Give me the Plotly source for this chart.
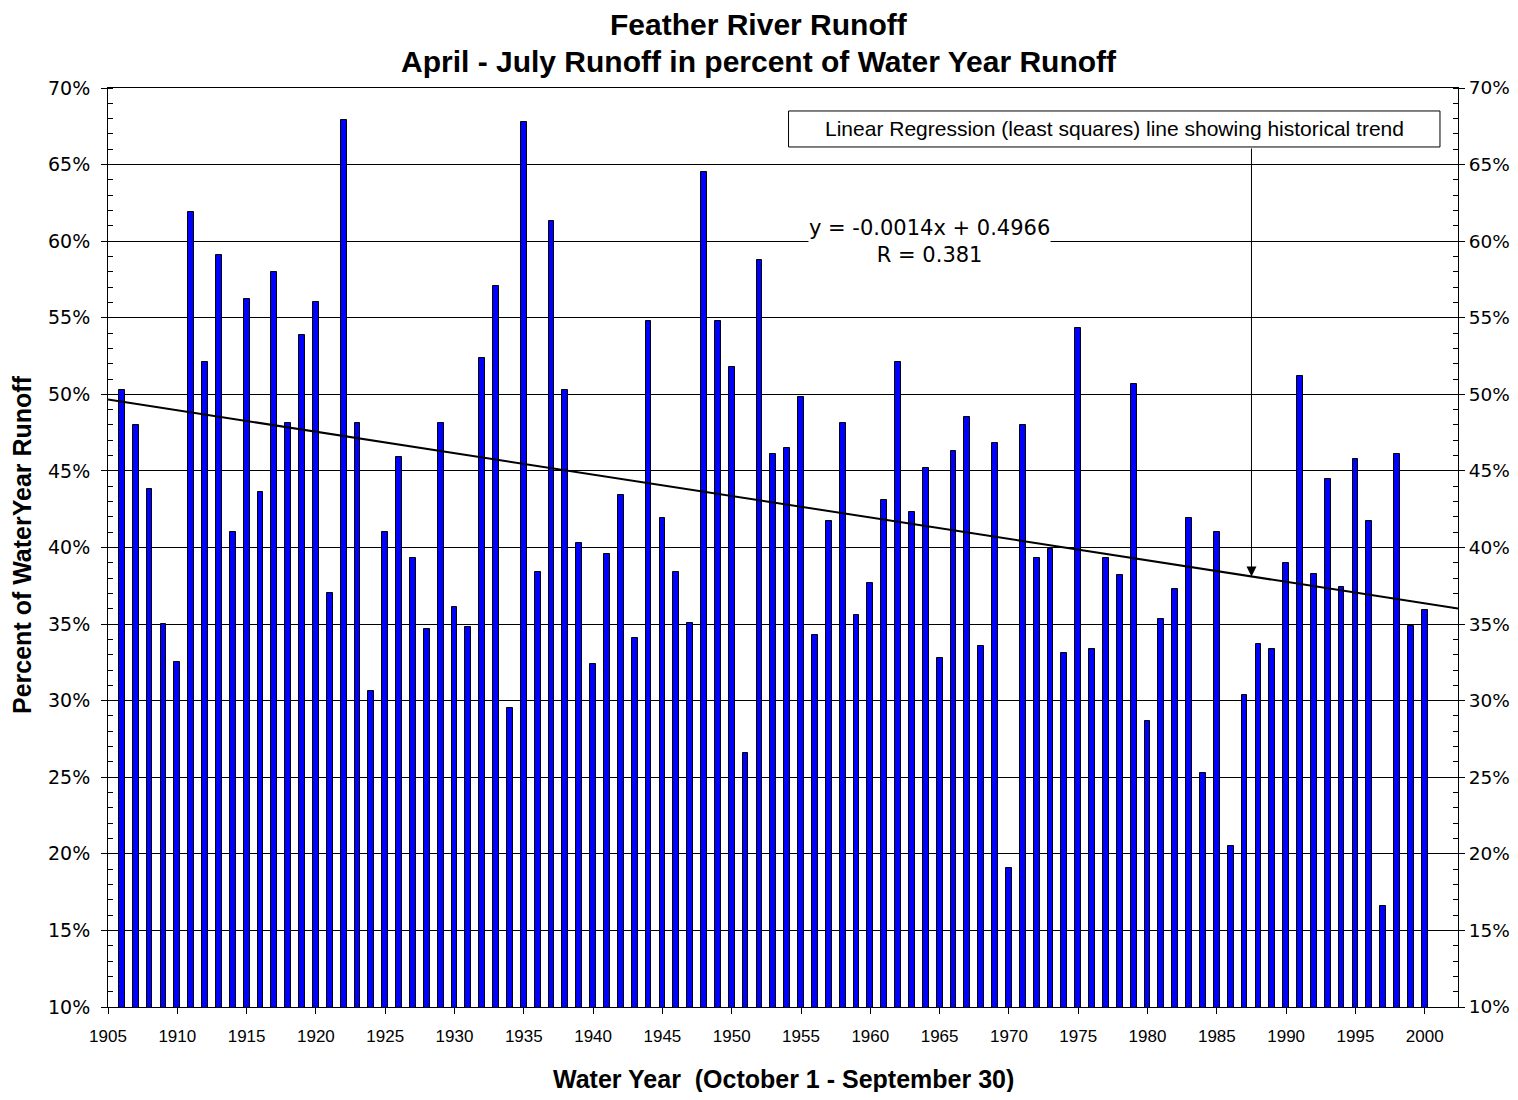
import plotly.graph_objects as go

# ---------------- data ----------------
YEARS = list(range(1906, 2001))
APR_JUL_PCT = [
    0.503, 0.480, 0.438, 0.350, 0.325, 0.619, 0.521, 0.591, 0.410, 0.562,   # 1906-1915
    0.436, 0.580, 0.481, 0.539, 0.560, 0.370, 0.679, 0.481, 0.306, 0.410,   # 1916-1925
    0.459, 0.393, 0.347, 0.481, 0.361, 0.348, 0.524, 0.571, 0.295, 0.678,   # 1926-1935
    0.384, 0.613, 0.503, 0.403, 0.324, 0.396, 0.434, 0.341, 0.548, 0.419,   # 1936-1945
    0.384, 0.351, 0.645, 0.548, 0.518, 0.266, 0.588, 0.461, 0.465, 0.498,   # 1946-1955
    0.343, 0.417, 0.481, 0.356, 0.377, 0.431, 0.521, 0.423, 0.452, 0.328,   # 1956-1965
    0.463, 0.485, 0.336, 0.468, 0.191, 0.480, 0.393, 0.399, 0.331, 0.543,   # 1966-1975
    0.334, 0.393, 0.382, 0.507, 0.287, 0.353, 0.373, 0.419, 0.253, 0.410,   # 1976-1985
    0.205, 0.304, 0.337, 0.334, 0.390, 0.512, 0.383, 0.445, 0.374, 0.458,   # 1986-1995
    0.417, 0.166, 0.461, 0.349, 0.359,                                       # 1996-2000
]
TICK_YEARS = list(range(1905, 2001, 5))
TICK_LABELS = [str(y) for y in TICK_YEARS]

# trend line as labelled on the chart (x = years since 1905)
TREND_SLOPE = -0.0014
TREND_INTERCEPT = 0.4966
TREND_R = 0.381
TREND_ORIGIN = 1905

X_RANGE = [1905, 2002.4]
Y_RANGE = [0.10, 0.70]

TITLE_1 = "Feather River Runoff"
TITLE_2 = "April - July Runoff in percent of Water Year Runoff"
X_TITLE = "Water Year  (October 1 - September 30)"
Y_TITLE = "Percent of WaterYear Runoff"
BOX_TEXT = "Linear Regression (least squares) line showing historical trend"
EQ_TEXT = "y = %.4fx + %.4f<br>R = %.3f" % (TREND_SLOPE, TREND_INTERCEPT, TREND_R)

def trend(x):
    return TREND_INTERCEPT + TREND_SLOPE * (x - TREND_ORIGIN)

ARROW_X = 1987.5
BOX_X = [1954.1, 2001.1]
BOX_Y = [0.6615, 0.685]

# page has an 8px body margin; figure sized so nothing overflows the window
OFF = 8
W, H = 1502, 1084
ML, MR, MT, MB = 100, 52, 80, 85
PW = W - ML - MR   # plot width px
PH = H - MT - MB   # plot height px

def py(abs_y):
    """paper y from absolute page pixel row"""
    return (OFF + MT + PH - abs_y) / PH

def px(abs_x):
    """paper x from absolute page pixel column"""
    return (abs_x - OFF - ML) / PW

# ---------------- figure ----------------
fig = go.Figure()

fig.add_trace(go.Bar(
    x=YEARS, y=APR_JUL_PCT, width=0.42,
    marker=dict(color="#0000FF", line=dict(color="black", width=1)),
    showlegend=False, hoverinfo="x+y",
))

fig.add_trace(go.Scatter(
    x=X_RANGE, y=[trend(X_RANGE[0]), trend(X_RANGE[1])],
    mode="lines", line=dict(color="black", width=2),
    showlegend=False, hoverinfo="skip",
))

# invisible trace to anchor right axis
fig.add_trace(go.Scatter(
    x=[YEARS[0]], y=[APR_JUL_PCT[0]], yaxis="y2", mode="markers",
    marker=dict(opacity=0), showlegend=False, hoverinfo="skip",
))

yaxis_common = dict(
    range=Y_RANGE, tick0=0.10, dtick=0.05, tickformat=".0%",
    ticks="outside", ticklen=6, tickcolor="black", tickwidth=1,
    showline=True, linecolor="black", linewidth=1,
    zeroline=False, automargin=False,
    minor=dict(ticks="inside", dtick=0.01, tick0=0.10, ticklen=5,
               tickcolor="black", tickwidth=1, showgrid=False),
)

fig.update_layout(
    width=W, height=H,
    paper_bgcolor="white", plot_bgcolor="white",
    margin=dict(l=ML, r=MR, t=MT, b=MB, autoexpand=False),
    bargap=0,
    xaxis=dict(
        range=X_RANGE, tickmode="array", tickvals=TICK_YEARS, ticktext=TICK_LABELS,
        ticks="outside", ticklen=6, tickcolor="black",
        showline=True, linecolor="black", linewidth=1, mirror=True,
        showgrid=False, zeroline=False, ticklabelstandoff=8, automargin=False,
        tickfont=dict(family="Liberation Sans", size=17, color="black"),
    ),
    yaxis=dict(**yaxis_common, showgrid=True, gridcolor="black", gridwidth=1,
               ticklabelstandoff=7,
               tickfont=dict(family="DejaVu Sans", size=19, color="black")),
    yaxis2=dict(**yaxis_common, overlaying="y", side="right", showgrid=False,
                tickfont=dict(family="DejaVu Sans", size=18.5, color="black")),
    font=dict(family="Liberation Sans", color="black"),
)

# titles
title_font = dict(family="Liberation Sans", size=30, color="black", weight="bold")
fig.add_annotation(x=px(759), y=py(24), xref="paper", yref="paper", text=TITLE_1,
                   showarrow=False, xanchor="center", yanchor="middle", font=title_font)
fig.add_annotation(x=px(759), y=py(61), xref="paper", yref="paper", text=TITLE_2,
                   showarrow=False, xanchor="center", yanchor="middle", font=title_font)

# annotation box
fig.add_shape(type="rect", xref="x", yref="y",
              x0=BOX_X[0], x1=BOX_X[1], y0=BOX_Y[0], y1=BOX_Y[1],
              fillcolor="white", line=dict(color="black", width=1), layer="above")
fig.add_annotation(x=(BOX_X[0] + BOX_X[1]) / 2, y=(BOX_Y[0] + BOX_Y[1]) / 2,
                   xref="x", yref="y", text=BOX_TEXT, showarrow=False,
                   font=dict(family="Liberation Sans", size=21, color="black"))
# arrow to trend line
fig.add_annotation(x=ARROW_X, y=trend(ARROW_X), xref="x", yref="y",
                   ax=ARROW_X, ay=BOX_Y[0], axref="x", ayref="y",
                   text="", showarrow=True, arrowhead=2, arrowsize=2,
                   arrowwidth=1, arrowcolor="black", standoff=0, startstandoff=0)
# equation
fig.add_annotation(x=1964.3, y=0.5998, xref="x", yref="y", text=EQ_TEXT,
                   showarrow=False, bgcolor="white", borderpad=0,
                   font=dict(family="DejaVu Sans", size=21, color="black"))

# axis titles
axis_title_font = dict(family="Liberation Sans", size=25, color="black", weight="bold")
fig.add_annotation(x=0.5, y=py(1079), xref="paper", yref="paper",
                   text=X_TITLE, showarrow=False, xanchor="center", yanchor="middle",
                   font=axis_title_font)
fig.add_annotation(x=px(22), y=py(545), xref="paper", yref="paper",
                   text=Y_TITLE, showarrow=False, textangle=-90,
                   xanchor="center", yanchor="middle", font=axis_title_font)

fig.write_html("out.html")
